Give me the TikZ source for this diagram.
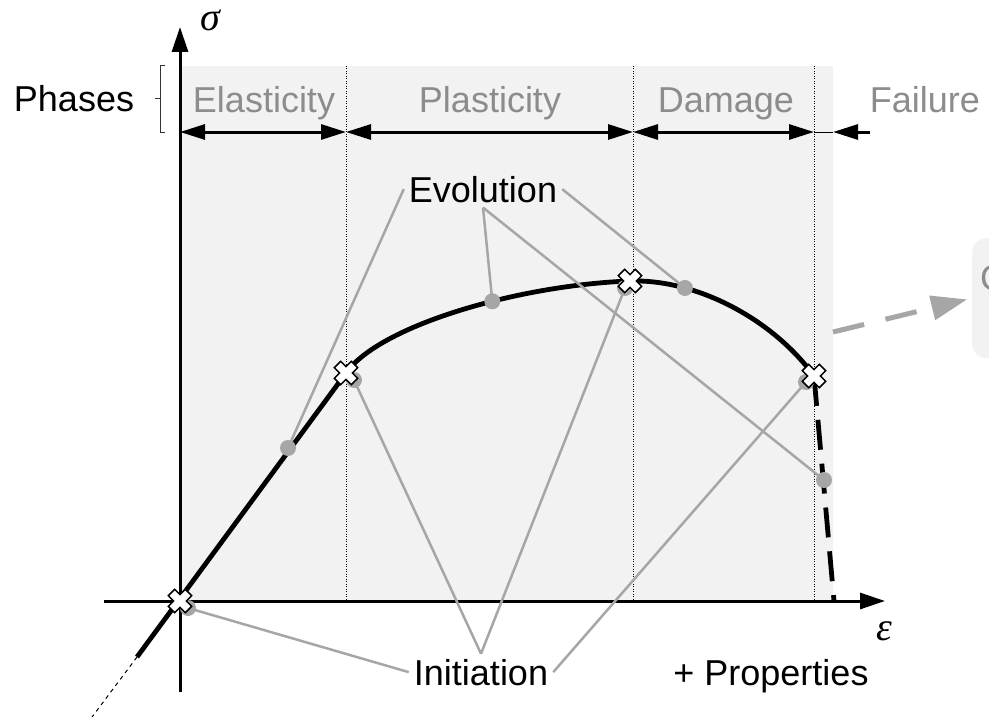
\documentclass[tikz,border=0pt]{standalone}
\usepackage{fontspec}
\setmainfont{Liberation Sans}
\newfontfamily\greekit{Liberation Serif}
\usetikzlibrary{arrows.meta}
\definecolor{bggray}{HTML}{F2F2F2}
\definecolor{conn}{HTML}{A6A6A6}
\definecolor{phasetxt}{HTML}{8C8C8C}
\tikzset{
  lbl/.style={font=\fontsize{36}{40}\selectfont, inner sep=5pt},
  phaselbl/.style={lbl, text=phasetxt, anchor=base},
  greeklbl/.style={font=\fontsize{40}{44}\selectfont\greekit\itshape},
  conline/.style={draw=conn, line width=2.5pt},
  gdot/.style={circle, fill=conn, minimum size=16pt, inner sep=0pt},
  axisline/.style={line width=3pt, -{Triangle[length=25pt,width=16pt]}},
  phasearrow/.style={line width=3pt, {Triangle[length=25pt,width=15pt]}-{Triangle[length=25pt,width=15pt]}},
  divline/.style={line width=0.9pt, dash pattern=on 1pt off 1.5pt},
  curveline/.style={line width=4.8pt},
  xmark/.pic={\filldraw[fill=white, draw=black, line width=1.5pt, rotate=45]
     (4.5,12) -- (4.5,4.5) -- (12,4.5) -- (12,-4.5) -- (4.5,-4.5) -- (4.5,-12) -- (-4.5,-12)
     -- (-4.5,-4.5) -- (-12,-4.5) -- (-12,4.5) -- (-4.5,4.5) -- (-4.5,12) -- cycle;}
}
\begin{document}
\begin{tikzpicture}[x=1pt, y=-1pt]
\useasboundingbox (0,0) rectangle (989,717);

% shaded phase region
\fill[bggray] (180,66) rectangle (833,601);
% phase separators
\foreach \xx/\nm in {346/s1, 633/s2, 814/s3} {
  \coordinate (\nm t) at (\xx,66);
  \coordinate (\nm b) at (\xx,601);
  \draw[divline] (\nm t) -- (\nm b);
}

% axes
\coordinate (yb) at (180,692);
\coordinate (yt) at (180,27);
\coordinate (xl) at (104,601);
\coordinate (xr) at (885,601);
\draw[axisline] (yb) -- (yt);
\draw[axisline] (xl) -- (xr);
\node[greeklbl] (sig) at (210,20) {σ};
\node[greeklbl] (eps) at (884,631) {ε};

% phases row
\coordinate (p0) at (180,132);
\coordinate (p1) at (346,132);
\coordinate (p2) at (633,132);
\coordinate (p3) at (814,132);
\coordinate (p3b) at (833,132);
\coordinate (p4) at (870,132);
\draw[phasearrow] (p0) -- (p1);
\draw[phasearrow] (p1) -- (p2);
\draw[phasearrow] (p2) -- (p3);
\draw[line width=1pt] (p3) -- (p3b);
\draw[line width=3pt, -{Triangle[length=25pt,width=15pt]}] (p4) -- (p3b);
\node[phaselbl] (el) at (264,113) {Elasticity};
\node[phaselbl] (pl) at (490,113) {Plasticity};
\node[phaselbl] (da) at (726,113) {Damage};
\node[phaselbl] (fa) at (925,113) {Failure};
\node[lbl, anchor=base] (ph) at (74,112) {Phases};
\draw[line width=1pt, black!80] (165,66) -- (160,66) -- (160,132) -- (165,132);
\draw[line width=1pt, black!80] (155,99) -- (160,99);

% stress-strain curve
\coordinate (tail) at (92,717);
\coordinate (tstart) at (137,657);
\coordinate (O) at (180,601);
\coordinate (knee) at (346,373);
\coordinate (peak) at (630,281);
\coordinate (fail) at (814,376);
\coordinate (cend) at (834,601);
\draw[line width=1pt, dash pattern=on 4pt off 4pt] (tstart) -- (tail);
\draw[curveline] (tstart) -- (knee)
  .. controls (380,325) and (520,285) .. (peak)
  .. controls (700,279) and (775,322) .. (fail);
\path (knee) .. controls (380,325) and (520,285) .. (peak) coordinate[pos=0.6] (dP);
\path (peak) .. controls (700,279) and (775,322) .. (fail) coordinate[pos=0.26] (dD);
\draw[curveline, dash pattern=on 30pt off 14pt] (fail) -- (cend);

% labels
\node[lbl, anchor=base] (evo) at (483,202) {Evolution};
\node[lbl, anchor=base] (ini) at (481,685) {Initiation};
\node[lbl, anchor=base] (prop) at (771,685) {+ Properties};

% dot positions
\coordinate (dO) at (188,608);
\coordinate (dE) at (288,448);
\coordinate (dK) at (354,380);
\coordinate (dPk) at (625,288);
\coordinate (dF) at (806,382);
\coordinate (dT) at (824,480);

% connectors
\draw[conline] (evo.west) -- (dE);
\draw[conline] (evo.south) -- (dP);
\draw[conline] (evo.south) -- (dT);
\draw[conline] (evo.east) -- (dD);
\draw[conline] (ini.west) -- (dO);
\draw[conline] (ini.north) -- (dK);
\draw[conline] (ini.north) -- (dPk);
\draw[conline] (ini.east) -- (dF);

% dots
\foreach \d in {dO,dE,dK,dP,dPk,dD,dF,dT} {
  \node[gdot] (n\d) at (\d) {};
}

% crosses
\pic at (O) {xmark};
\pic at (knee) {xmark};
\pic at (peak) {xmark};
\pic at (fail) {xmark};

% right box and dashed arrow
\node[fill=bggray, rounded corners=14pt, minimum width=80pt, minimum height=120pt,
      anchor=north west, inner sep=0pt] (box) at (972,238) {};
\node[lbl, text=phasetxt, anchor=base west, inner sep=0pt] (boxtxt) at (980,290) {C};
\coordinate (astart) at (833,332);
\draw[draw=conn, line width=5pt, dash pattern=on 32pt off 22pt,
      -{Triangle[length=36pt,width=24pt]}, shorten >=5pt] (astart) -- (box.west);
\end{tikzpicture}
\end{document}
